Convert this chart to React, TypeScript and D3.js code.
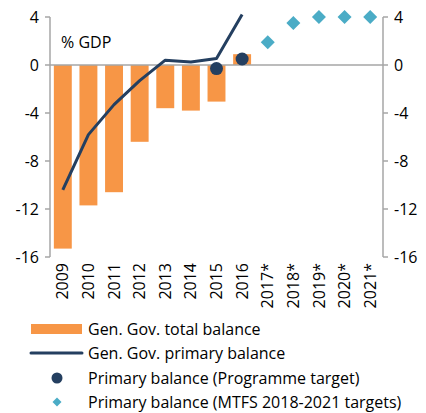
import React from "react";
import * as d3 from "d3";

const categories = ["2009","2010","2011","2012","2013","2014","2015","2016","2017*","2018*","2019*","2020*","2021*"];
const totalBalance: (number|null)[] = [-15.3,-11.7,-10.6,-6.4,-3.6,-3.8,-3.05,0.9,null,null,null,null,null];
const primaryBalance: (number|null)[] = [-10.4,-5.8,-3.3,-1.3,0.4,0.25,0.55,4.2,null,null,null,null,null];
const programmeTarget: (number|null)[] = [null,null,null,null,null,null,-0.3,0.5,null,null,null,null,null];
const mtfsTarget: (number|null)[] = [null,null,null,null,null,null,null,null,1.9,3.5,4.0,4.0,4.0];
const yTicks = [4,0,-4,-8,-12,-16];

const legendItems = [
  "Gen. Gov. total balance",
  "Gen. Gov. primary balance",
  "Primary balance (Programme target)",
  "Primary balance (MTFS 2018-2021 targets)",
];

const ORANGE = "#f79646";
const NAVY = "#243f60";
const TEAL = "#4bacc6";
const GRAY = "#a6a6a6";
const FONT = "'Open Sans', sans-serif";
const FS = 16;

const diamondPath = (h: number) => `M0,${-h}L${h},0L0,${h}L${-h},0Z`;

export default function App() {
  const W = 426, H = 413;
  const left = 50, right = 383, top = 17, bottom = 257;
  const x = d3.scaleBand().domain(categories).range([left, right]).paddingInner(0.3).paddingOuter(0.15);
  const y = d3.scaleLinear().domain([-16, 4]).range([bottom, top]);
  const cx = (c: string) => (x(c) as number) + x.bandwidth() / 2;

  const lineData = categories.map((c, i) => ({ c, v: primaryBalance[i] })).filter(d => d.v !== null) as {c:string; v:number}[];
  const line = d3.line<{c:string; v:number}>().x(d => cx(d.c)).y(d => y(d.v));

  const legendY = [329, 353, 378, 402];

  return (
    <svg width={W} height={H} style={{ position: "absolute", left: 0, top: 0 }} fontFamily={FONT}>
      <rect width={W} height={H} fill="#fff" />
      {categories.map((c, i) => {
        const v = totalBalance[i];
        if (v === null) return null;
        return <rect key={c} x={x(c)} width={x.bandwidth()} y={y(Math.max(0, v))} height={Math.abs(y(v) - y(0))} fill={ORANGE} />;
      })}
      <line x1={left} x2={right} y1={y(0)} y2={y(0)} stroke={GRAY} strokeWidth={1.5} />
      <line x1={left} x2={left} y1={top} y2={bottom} stroke={GRAY} strokeWidth={1.5} />
      {yTicks.map(t => (
        <g key={"l" + t}>
          <line x1={left - 5} x2={left} y1={y(t)} y2={y(t)} stroke={GRAY} strokeWidth={1.5} />
          <text x={left - 11} y={y(t)} dy="0.35em" textAnchor="end" fontSize={FS} fill="#000">{t}</text>
        </g>
      ))}
      <line x1={right} x2={right} y1={top} y2={bottom} stroke={GRAY} strokeWidth={1.5} />
      {yTicks.map(t => (
        <g key={"r" + t}>
          <line x1={right} x2={right + 5} y1={y(t)} y2={y(t)} stroke={GRAY} strokeWidth={1.5} />
          <text x={right + 11} y={y(t)} dy="0.35em" textAnchor="start" fontSize={FS} fill="#000">{t}</text>
        </g>
      ))}
      {categories.map(c => (
        <text key={"x" + c} transform={`translate(${cx(c)},${bottom + 6}) rotate(-90)`} textAnchor="end" dy="0.35em" fontSize={FS} fill="#000">{c}</text>
      ))}
      <path d={line(lineData) || ""} fill="none" stroke={NAVY} strokeWidth={3} strokeLinejoin="round" />
      {categories.map((c, i) => {
        const v = programmeTarget[i];
        if (v === null) return null;
        return <circle key={"p" + c} cx={cx(c)} cy={y(v)} r={6.5} fill={NAVY} />;
      })}
      {categories.map((c, i) => {
        const v = mtfsTarget[i];
        if (v === null) return null;
        return <path key={"m" + c} d={diamondPath(7)} transform={`translate(${cx(c)},${y(v)})`} fill={TEAL} />;
      })}
      <text x={61} y={42} dy="0.35em" fontSize={FS} fill="#000">% GDP</text>
      <rect x={31} y={legendY[0] - 5} width={51} height={10} fill={ORANGE} />
      <line x1={31} x2={82} y1={legendY[1]} y2={legendY[1]} stroke={NAVY} strokeWidth={3} strokeLinecap="round" />
      <circle cx={57} cy={legendY[2]} r={5.5} fill={NAVY} />
      <path d={diamondPath(4.5)} transform={`translate(57,${legendY[3]})`} fill={TEAL} />
      {legendItems.map((t, i) => (
        <text key={t} x={88} y={legendY[i]} dy="0.35em" fontSize={FS} fill="#000">{t}</text>
      ))}
    </svg>
  );
}
